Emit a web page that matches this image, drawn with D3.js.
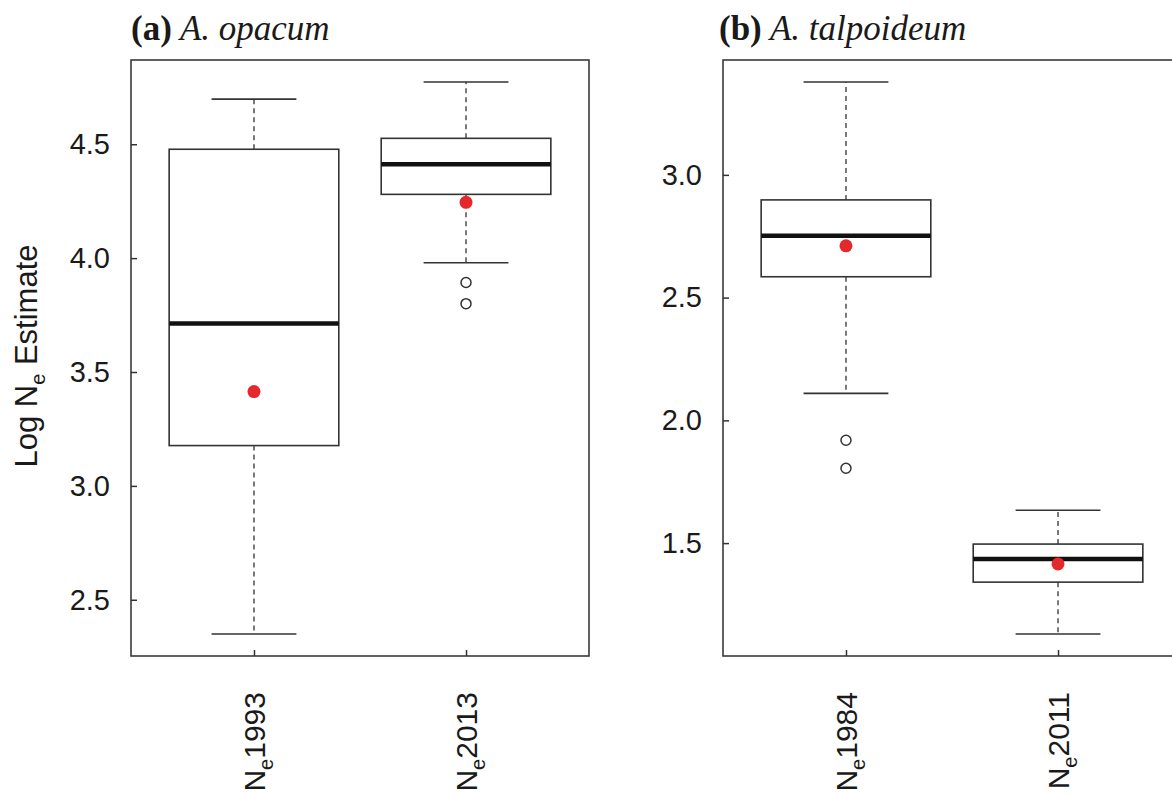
<!DOCTYPE html>
<html>
<head>
<meta charset="utf-8">
<script src="https://cdn.jsdelivr.net/npm/d3@7"></script>
<style>
  body { margin: 0; background: #fff; }
  svg { display: block; }
</style>
</head>
<body>
<div id="chart"></div>
<script>
// Box plot data (log Ne estimates)
const titleTags = ["(a)", "(b)"];
const species = ["A. opacum", "A. talpoideum"];

const groupsA = ["1993", "2013"];
const whiskerLowA = [2.35, 3.98];
const q1A = [3.177, 4.28];
const medianA = [3.713, 4.412];
const q3A = [4.478, 4.526];
const whiskerHighA = [4.698, 4.773];
const meanA = [3.414, 4.245];
const outliersA = [[], [3.893, 3.80]];
const ticksA = [2.5, 3.0, 3.5, 4.0, 4.5];

const groupsB = ["1984", "2011"];
const whiskerLowB = [2.110, 1.130];
const q1B = [2.585, 1.341];
const medianB = [2.752, 1.435];
const q3B = [2.898, 1.496];
const whiskerHighB = [3.378, 1.634];
const meanB = [2.711, 1.415];
const outliersB = [[1.919, 1.805], []];
const ticksB = [1.5, 2.0, 2.5, 3.0];

const width = 1172, height = 795;
const plotTop = 60, plotBottom = 656;
const sans = "'Liberation Sans', Arial, sans-serif";
const serif = "'Liberation Serif', 'Times New Roman', serif";

const svg = d3.select("#chart").append("svg")
    .attr("width", width)
    .attr("height", height);

function drawPanel(p) {
    const g = svg.append("g");

    // R style: data range padded by 4%
    const lo = d3.min(p.low.concat(p.outliers.flat()));
    const hi = d3.max(p.high.concat(p.outliers.flat()));
    const pad = (hi - lo) * 0.04;

    const y = d3.scaleLinear()
        .domain([lo - pad, hi + pad])
        .range([plotBottom, plotTop]);

    const x = d3.scaleLinear()
        .domain([0.42, 2.58])
        .range([p.left, p.left + 458]);

    const unit = x(1) - x(0);
    const data = p.groups.map((grp, i) => ({
        grp: grp, pos: i + 1,
        low: p.low[i], q1: p.q1[i], med: p.median[i], q3: p.q3[i],
        high: p.high[i], mean: p.mean[i], out: p.outliers[i]
    }));

    const box = g.selectAll(".box")
        .data(data)
        .enter().append("g")
        .attr("class", "box");

    // whiskers
    box.append("line")
        .attr("x1", d => x(d.pos)).attr("x2", d => x(d.pos))
        .attr("y1", d => y(d.q3)).attr("y2", d => y(d.high))
        .attr("stroke", "#333").attr("stroke-width", 1.3)
        .attr("stroke-dasharray", "5,4");
    box.append("line")
        .attr("x1", d => x(d.pos)).attr("x2", d => x(d.pos))
        .attr("y1", d => y(d.q1)).attr("y2", d => y(d.low))
        .attr("stroke", "#333").attr("stroke-width", 1.3)
        .attr("stroke-dasharray", "5,4");

    // staples
    ["low", "high"].forEach(k => {
        box.append("line")
            .attr("x1", d => x(d.pos) - unit * 0.2)
            .attr("x2", d => x(d.pos) + unit * 0.2)
            .attr("y1", d => y(d[k])).attr("y2", d => y(d[k]))
            .attr("stroke", "#333").attr("stroke-width", 1.6);
    });

    box.append("rect")
        .attr("x", d => x(d.pos) - unit * 0.4)
        .attr("width", unit * 0.8)
        .attr("y", d => y(d.q3))
        .attr("height", d => y(d.q1) - y(d.q3))
        .attr("fill", "none")
        .attr("stroke", "#333").attr("stroke-width", 1.6);

    box.append("line")
        .attr("x1", d => x(d.pos) - unit * 0.4)
        .attr("x2", d => x(d.pos) + unit * 0.4)
        .attr("y1", d => y(d.med)).attr("y2", d => y(d.med))
        .attr("stroke", "#111").attr("stroke-width", 4.5);

    box.selectAll(".out")
        .data(d => d.out.map(v => ({ pos: d.pos, v: v })))
        .enter().append("circle")
        .attr("cx", d => x(d.pos))
        .attr("cy", d => y(d.v))
        .attr("r", 5)
        .attr("fill", "none")
        .attr("stroke", "#333").attr("stroke-width", 1.5);

    box.append("circle")
        .attr("cx", d => x(d.pos))
        .attr("cy", d => y(d.mean))
        .attr("r", 6.5)
        .attr("fill", "#e4282b");

    // frame
    g.append("rect")
        .attr("x", x.range()[0]).attr("y", plotTop)
        .attr("width", x.range()[1] - x.range()[0])
        .attr("height", plotBottom - plotTop)
        .attr("fill", "none")
        .attr("stroke", "#3a3a3a").attr("stroke-width", 1.6);

    // y axis, ticks point inward
    const yAxis = g.append("g")
        .attr("transform", `translate(${x.range()[0]},0)`)
        .call(d3.axisLeft(y).tickValues(p.ticks).tickFormat(d3.format(".1f"))
            .tickSizeInner(-6).tickSizeOuter(0).tickPadding(21));
    yAxis.select(".domain").remove();
    yAxis.selectAll("line").attr("stroke", "#333").attr("stroke-width", 1.5);
    yAxis.selectAll("text")
        .attr("fill", "#1a1a1a")
        .style("font-family", sans)
        .style("font-size", "29px");

    // x axis
    const xAxis = g.append("g")
        .attr("transform", `translate(0,${plotBottom})`)
        .call(d3.axisBottom(x).tickValues([1, 2]).tickFormat("")
            .tickSizeInner(-6).tickSizeOuter(0));
    xAxis.select(".domain").remove();
    xAxis.selectAll("line").attr("stroke", "#333").attr("stroke-width", 1.5);

    const lab = g.selectAll(".xlab")
        .data(data)
        .enter().append("text")
        .attr("class", "xlab")
        .attr("transform", d => `translate(${x(d.pos) + 11},692) rotate(-90)`)
        .attr("text-anchor", "end")
        .attr("fill", "#1a1a1a")
        .style("font-family", sans)
        .style("font-size", "30px");
    lab.append("tspan").text("N");
    lab.append("tspan").attr("dy", 8).style("font-size", "20px").text("e");
    lab.append("tspan").attr("dy", -8).text(d => d.grp);

    // panel title
    const t = svg.append("text")
        .attr("x", p.titleX)
        .attr("y", 40)
        .attr("fill", "#1a1a1a")
        .style("font-family", serif)
        .style("font-size", "35px");
    t.append("tspan").style("font-weight", "bold").text(p.tag);
    t.append("tspan").style("font-style", "italic").text(" " + p.species);
}

drawPanel({
    left: 131, titleX: 131, tag: titleTags[0], species: species[0],
    groups: groupsA, low: whiskerLowA, q1: q1A, median: medianA, q3: q3A,
    high: whiskerHighA, mean: meanA, outliers: outliersA, ticks: ticksA
});

drawPanel({
    left: 723, titleX: 719, tag: titleTags[1], species: species[1],
    groups: groupsB, low: whiskerLowB, q1: q1B, median: medianB, q3: q3B,
    high: whiskerHighB, mean: meanB, outliers: outliersB, ticks: ticksB
});

// shared y label
const ylab = svg.append("text")
    .attr("transform", "translate(37,356) rotate(-90)")
    .attr("text-anchor", "middle")
    .attr("fill", "#1a1a1a")
    .style("font-family", sans)
    .style("font-size", "31px");
ylab.append("tspan").text("Log N");
ylab.append("tspan").attr("dy", 8).style("font-size", "20px").text("e");
ylab.append("tspan").attr("dy", -8).text(" Estimate");
</script>
</body>
</html>
